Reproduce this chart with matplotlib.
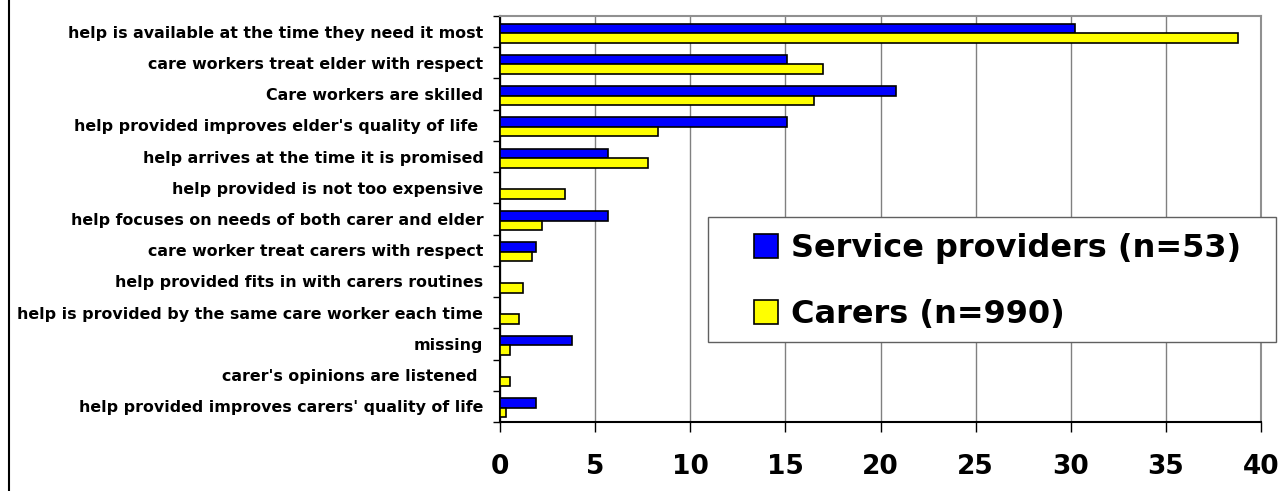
import numpy as np
import matplotlib
matplotlib.use("Agg")
import matplotlib.pyplot as plt
from matplotlib.lines import Line2D
from matplotlib.patches import Rectangle

# data (percent)
categories = [
    "help is available at the time they need it most",
    "care workers treat elder with respect",
    "Care workers are skilled",
    "help provided improves elder's quality of life ",
    "help arrives at the time it is promised",
    "help provided is not too expensive",
    "help focuses on needs of both carer and elder",
    "care worker treat carers with respect",
    "help provided fits in with carers routines",
    "help is provided by the same care worker each time",
    "missing",
    "carer's opinions are listened ",
    "help provided improves carers' quality of life",
]
providers = [30.2, 15.1, 20.8, 15.1, 5.7, 0, 5.7, 1.9, 0, 0, 3.8, 0, 1.9]
carers = [38.8, 17.0, 16.5, 8.3, 7.8, 3.4, 2.2, 1.7, 1.2, 1.0, 0.5, 0.5, 0.3]
xticks = [0, 5, 10, 15, 20, 25, 30, 35, 40]

W, H = 1278, 491
fig = plt.figure(figsize=(W / 100, H / 100), dpi=100)
ax = fig.add_axes([500 / W, 1 - 422 / H, (1261 - 500) / W, (422 - 16) / H])

y = np.arange(len(categories))
h = 0.305
off = 0.05
ax.barh(y - h / 2 + off, providers, height=h, color="#0000ff", edgecolor="black",
        linewidth=1.2, label="Service providers (n=53)", zorder=3)
ax.barh(y + h / 2 + off, carers, height=h, color="#ffff00", edgecolor="black",
        linewidth=1.2, label="Carers (n=990)", zorder=3)

ax.set_xlim(0, 40)
ax.set_ylim(len(categories) - 0.5, -0.5)

# gridlines / frame
ax.set_xticks(xticks)
ax.grid(axis="x", color="#808080", linewidth=1.0, zorder=0)
for s in ["top", "right"]:
    ax.spines[s].set_color("#909090")
    ax.spines[s].set_linewidth(1.5)
for s in ["left", "bottom"]:
    ax.spines[s].set_color("black")
    ax.spines[s].set_linewidth(1.5)

ax.tick_params(axis="x", length=7, width=1, color="black", pad=16)
for t in ax.get_xticklabels():
    t.set_fontweight("bold")
    t.set_fontsize(19)

ax.set_yticks(y)
ax.set_yticklabels(categories, fontsize=11.4, fontweight="bold")
ax.set_yticks(np.arange(len(categories) + 1) - 0.5, minor=True)
ax.tick_params(axis="y", which="major", length=0, pad=12)
ax.tick_params(axis="y", which="minor", length=5, width=1, color="black")

# legend box (frame drawn separately so the padding can match)
ax.add_patch(Rectangle((708 / W, 1 - 342 / H), (1276 - 708) / W, (342 - 217) / H,
                       transform=fig.transFigure, facecolor="white",
                       edgecolor="#606060", linewidth=1.0, zorder=4, clip_on=False))
leg = ax.legend(loc="upper left", bbox_to_anchor=(754 / W, 1 - 233 / H),
                bbox_transform=fig.transFigure, prop={"weight": "bold", "size": 23},
                handlelength=0.75, handleheight=0.75, handletextpad=0.4,
                labelspacing=1.1, borderpad=0, borderaxespad=0,
                frameon=False)
leg.set_zorder(5)

# outer frame line on the left edge
fig.add_artist(Line2D([9 / W, 9 / W], [0, 1], transform=fig.transFigure,
                      color="black", linewidth=1.5))

fig.savefig("out.png", dpi=100)
